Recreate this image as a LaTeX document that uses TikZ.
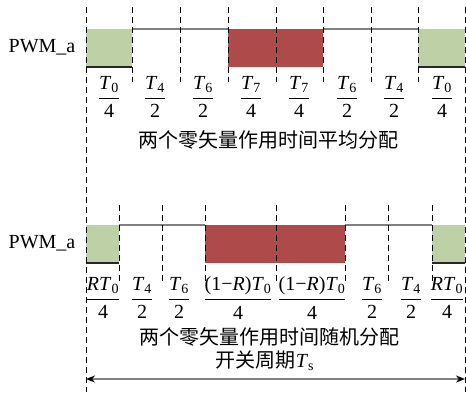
\documentclass[tikz,border=0pt]{standalone}
\usepackage{amsmath}
\usepackage{fontspec}
\setmainfont{Liberation Serif}
\newfontfamily\cjk{Noto Sans CJK SC}
\usetikzlibrary{arrows.meta}
\definecolor{gfill}{HTML}{BDD0A6}
\definecolor{rfill}{HTML}{AE4A4A}
\definecolor{lgray}{HTML}{808080}
\tikzset{
 vdash/.style={draw=black, dash pattern=on 6pt off 4pt, line width=0.9pt},
 lvl/.style={draw=lgray, line width=1.6pt},
 lowlvl/.style={draw=black!85, line width=1.5pt},
 lab/.style={font=\fontsize{20}{24}\selectfont, inner sep=0pt},
 fracn/.style={font=\fontsize{20}{23}\selectfont, inner sep=0pt},
 captxt/.style={font=\cjk\fontsize{20}{24}\selectfont, inner sep=0pt},
 period/.style={draw=lgray, line width=1.6pt,
   {Stealth[color=black,length=9pt,width=7pt]}-{Stealth[color=black,length=9pt,width=7pt]}},
}
\newcommand{\fr}[2]{$\dfrac{\text{#1}}{\text{#2}}$}
\newcommand{\Tsub}[1]{\textit{T}\textsubscript{#1}}
\begin{document}
\begin{tikzpicture}[x=1pt,y=-1pt]
\useasboundingbox (0,0) rectangle (466,392);
% ---------- top waveform ----------
\fill[gfill] (86,29) rectangle (132,67);
\fill[rfill] (228,29) rectangle (323,67);
\fill[gfill] (418,29) rectangle (465,67);
\draw[lowlvl] (86,67) -- (132,67);
\draw[lowlvl] (418,67) -- (465,67);
\draw[lvl] (132,29) -- (228,29);
\draw[lvl] (323,29) -- (418,29);
\foreach \x in {132,180,228,276,323,371,418} \draw[vdash] (\x,7) -- (\x,82);
% ---------- bottom waveform ----------
\fill[gfill] (86,225) rectangle (119,263);
\fill[rfill] (205,225) rectangle (345,263);
\fill[gfill] (432,225) rectangle (465,263);
\draw[lowlvl] (86,263) -- (119,263);
\draw[lowlvl] (432,263) -- (465,263);
\draw[lvl] (119,225) -- (205,225);
\draw[lvl] (345,225) -- (432,225);
\foreach \x in {119,162,205,276,345,388,432} \draw[vdash] (\x,205) -- (\x,282);
% outer long dashed lines
\draw[vdash] (86,7) -- (86,392);
\draw[vdash] (465,7) -- (465,392);
% ---------- labels ----------
\node[lab] (pwm1) at (42,47) {PWM\_a};
\node[lab] (pwm2) at (42,243) {PWM\_a};
\node[fracn] (f1) at (109,97) {\fr{\Tsub{0}}{4}};
\node[fracn] (f2) at (155,97) {\fr{\Tsub{4}}{2}};
\node[fracn] (f3) at (203,97) {\fr{\Tsub{6}}{2}};
\node[fracn] (f4) at (251,97) {\fr{\Tsub{7}}{4}};
\node[fracn] (f5) at (299,97) {\fr{\Tsub{7}}{4}};
\node[fracn] (f6) at (347,97) {\fr{\Tsub{6}}{2}};
\node[fracn] (f7) at (394,97) {\fr{\Tsub{4}}{2}};
\node[fracn] (f8) at (442,97) {\fr{\Tsub{0}}{4}};
\node[captxt] (c1) at (268,140) {两个零矢量作用时间平均分配};
\node[fracn] (g1) at (103,298) {\fr{\textit{R}\Tsub{0}}{4}};
\node[fracn] (g2) at (142,298) {\fr{\Tsub{4}}{2}};
\node[fracn] (g3) at (179,298) {\fr{\Tsub{6}}{2}};
\node[fracn] (g4) at (238,298) {\fr{(1−\textit{R})\Tsub{0}}{4}};
\node[fracn] (g5) at (312,298) {\fr{(1−\textit{R})\Tsub{0}}{4}};
\node[fracn] (g6) at (372,298) {\fr{\Tsub{6}}{2}};
\node[fracn] (g7) at (411,298) {\fr{\Tsub{4}}{2}};
\node[fracn] (g8) at (447,298) {\fr{\textit{R}\Tsub{0}}{4}};
\node[captxt] (c2) at (269,337) {两个零矢量作用时间随机分配};
\node[captxt] (c3) at (265,361) {开关周期{\rmfamily\textit{T}\textsubscript{s}}};
% ---------- period arrow ----------
\coordinate (aL) at (86,379);
\coordinate (aR) at (465,379);
\draw[period] (aL) -- (aR);
\end{tikzpicture}
\end{document}
